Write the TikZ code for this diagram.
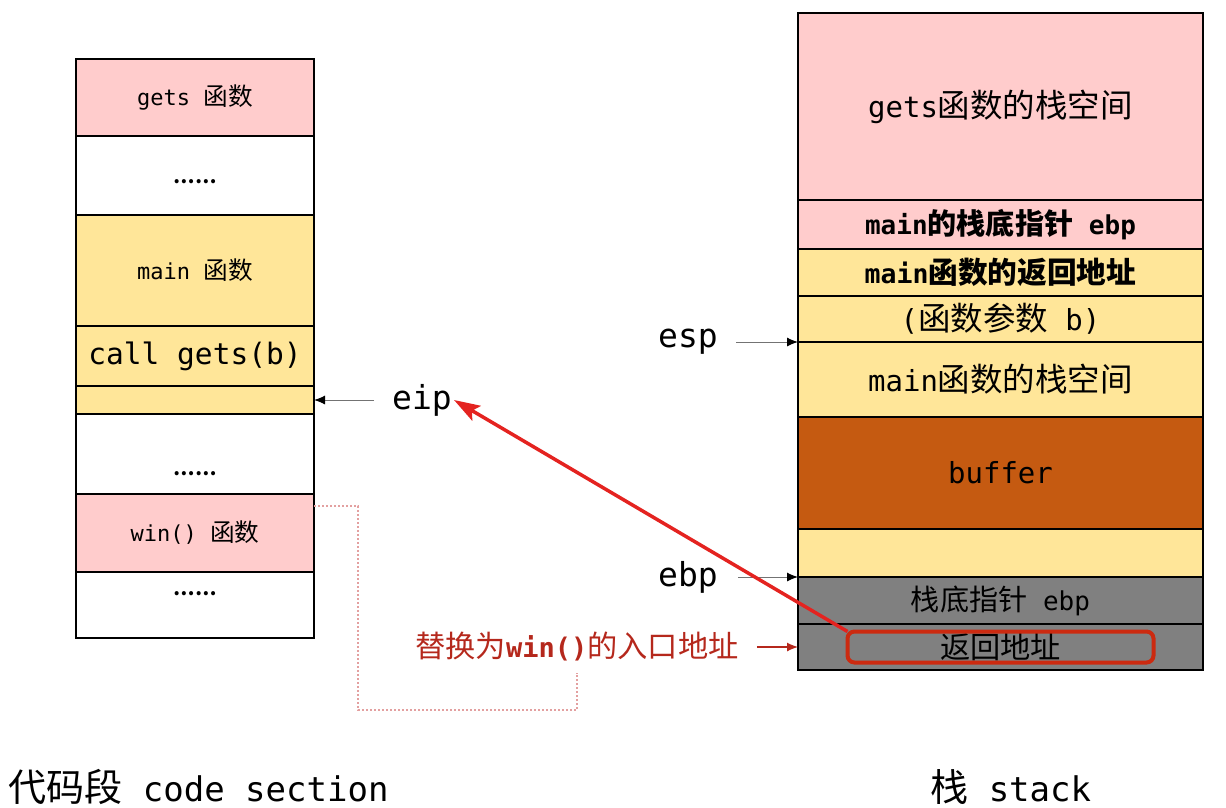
\documentclass[tikz,border=0pt]{standalone}
\usepackage{fontspec}
\setmainfont{DejaVu Sans Mono}
\newfontfamily\cjk{Noto Sans CJK SC}[Scale=1.12]
\usetikzlibrary{calc,arrows.meta}

\definecolor{funcpink}{HTML}{FFCCCC}
\definecolor{mainyellow}{HTML}{FFE699}
\definecolor{bufferorange}{HTML}{C55A11}
\definecolor{framegray}{HTML}{808080}
\definecolor{hackred}{HTML}{E42320}
\definecolor{markred}{HTML}{CC2A10}
\definecolor{notered}{HTML}{B5281C}
\definecolor{linkpink}{HTML}{E3A0A0}

\newcommand{\zh}[1]{{\cjk #1}}
\newcommand{\fsz}[1]{\fontsize{#1}{#1}\selectfont}

\begin{document}
\begin{tikzpicture}[x=1pt, y=-1pt,
  code/.style={draw, line width=2pt, minimum width=238, inner sep=0pt, outer sep=0pt, anchor=north, font=\fsz{22}},
  slot/.style={draw, line width=2pt, minimum width=405, inner sep=0pt, outer sep=0pt, anchor=north, font=\fsz{29}},
  reg/.style={inner sep=2pt, font=\fsz{33}},
  ptr/.style={draw=black!55, line width=1pt, -{Latex[length=11pt, width=9pt, color=black]}},
  ellip/.style={inner sep=0pt, font=\fsz{17}\bfseries},
]
  \useasboundingbox (0,0) rectangle (1226,807);

  % code section
  \node (gets) [code, fill=funcpink, minimum height=77] at (195,59) {gets \zh{函数}};
  \node (dotsa) [code, minimum height=79] at (gets.south) {};
  \node (main) [code, fill=mainyellow, minimum height=111] at (dotsa.south) {main \zh{函数}};
  \node (call) [code, fill=mainyellow, minimum height=60, font=\fsz{29.5}] at (main.south) {call gets(b)};
  \node (blank) [code, fill=mainyellow, minimum height=28] at (call.south) {};
  \node (dotsb) [code, minimum height=80] at (blank.south) {};
  \node (win) [code, fill=funcpink, minimum height=78] at (dotsb.south) {win() \zh{函数}};
  \node (dotsc) [code, minimum height=66] at (win.south) {};
  \node (dotsatext) [ellip] at ($(dotsa.center)+(0,6)$) {\zh{……}};
  \node (dotsbtext) [ellip] at ($(dotsb.center)+(0,20)$) {\zh{……}};
  \node (dotsctext) [ellip] at ($(dotsc.center)+(0,-11)$) {\zh{……}};

  \node (eip) [reg] at ($(blank.east)+(108,0)$) {eip};
  \draw[ptr, shorten <=16pt] (eip.west) -- (blank.east);

  % stack
  \node (getsstack) [slot, fill=funcpink, minimum height=187] at (1000.5,13) {gets\zh{函数的栈空间}};
  \node (mainebp) [slot, fill=funcpink, minimum height=49, font=\fsz{26}\bfseries] at (getsstack.south) {main\zh{的栈底指针} ebp};
  \node (mainret) [slot, fill=mainyellow, minimum height=47, font=\fsz{26.5}\bfseries] at (mainebp.south) {main\zh{函数的返回地址}};
  \node (arg) [slot, fill=mainyellow, minimum height=46] at (mainret.south) {(\zh{函数参数} b)};
  \node (mainstack) [slot, fill=mainyellow, minimum height=75] at (arg.south) {main\zh{函数的栈空间}};
  \node (buffer) [slot, fill=bufferorange, minimum height=112] at (mainstack.south) {buffer};
  \node (pad) [slot, fill=mainyellow, minimum height=48] at (buffer.south) {};
  \node (savedebp) [slot, fill=framegray, minimum height=47, font=\fsz{26}] at (pad.south) {\zh{栈底指针} ebp};
  \node (ret) [slot, fill=framegray, minimum height=46, font=\fsz{27}] at (savedebp.south) {\zh{返回地址}};
  \node (retmark) [draw=markred, line width=4pt, rounded corners=7pt, minimum width=306, minimum height=31, inner sep=0pt, outer sep=0pt] at (ret.center) {};

  \node (esp) [reg] at ($(mainstack.north west)+(-110,0)$) {esp};
  \draw[ptr, shorten <=16pt] (esp.east) -- (mainstack.north west);
  \node (ebp) [reg] at ($(savedebp.north west)+(-110,0)$) {ebp};
  \draw[ptr, shorten <=18pt] (ebp.east) -- (savedebp.north west);

  % overwrite note
  \node (note) [inner sep=2pt, font=\fsz{27}, text=notered] at ($(ret.west)+(-221,0)$) {\zh{替换为}\textbf{win()}\zh{的入口地址}};
  \draw[notered, line width=1.2pt, -{Latex[length=11pt, width=9pt]}, shorten <=16pt] (note.east) -- (ret.west);
  \draw[linkpink, line width=1.2pt, dash pattern=on 2pt off 2pt] ($(win.north east)+(0,12)$) -| (358,710) -| ($(note.south)+(0,9)$);

  \draw[hackred, line width=3.5pt, -{Stealth[length=26pt, width=17pt, inset=5pt]}] (retmark.north west) -- (eip.east);

  \node (codelabel) [anchor=base west, inner sep=0pt, font=\fsz{34}] at (8,801) {\zh{代码段} code section};
  \node (stacklabel) [anchor=base west, inner sep=0pt, font=\fsz{34}] at (930,801) {\zh{栈} stack};
\end{tikzpicture}
\end{document}
